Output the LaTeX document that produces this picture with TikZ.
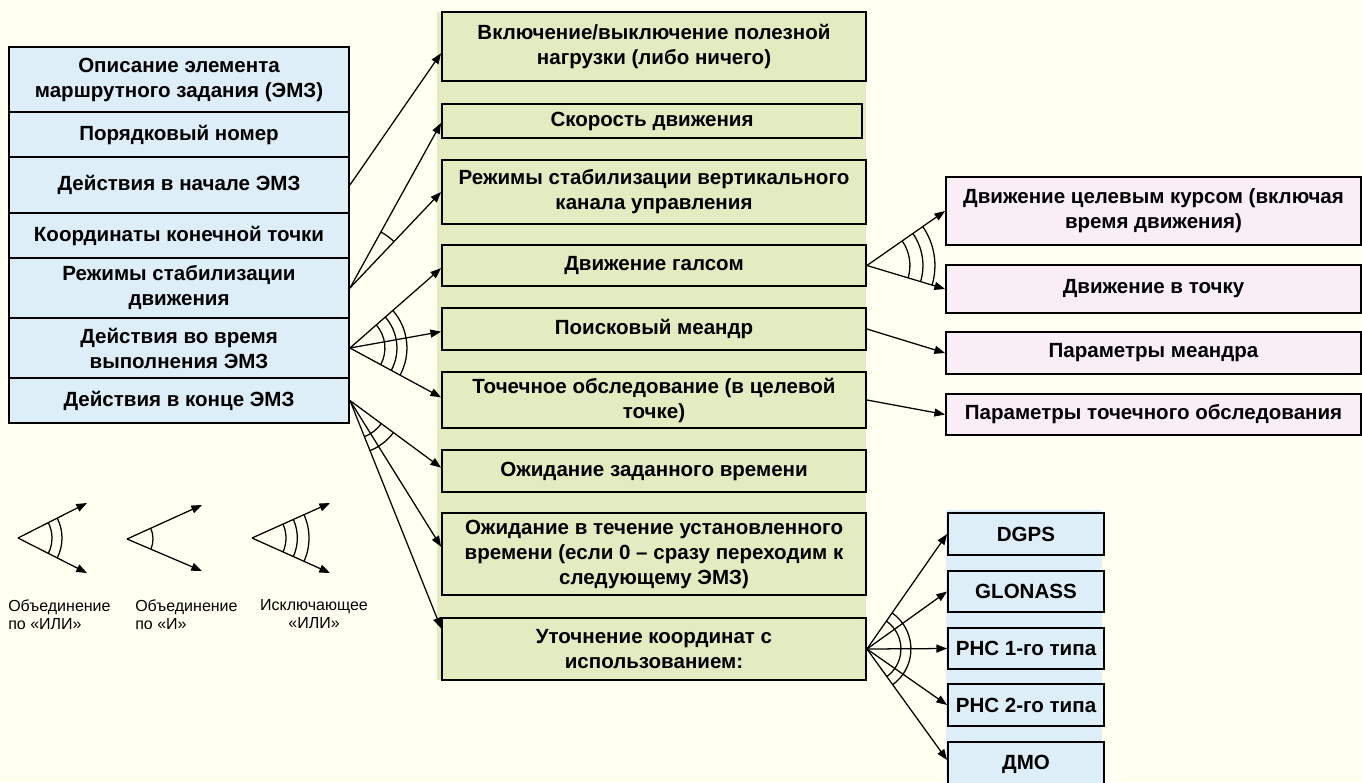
\documentclass[tikz,border=0pt]{standalone}
\usepackage{fontspec}
\setmainfont{Liberation Sans}
\usetikzlibrary{calc,arrows.meta}
\definecolor{bg}{RGB}{255,255,242}
\definecolor{lblue}{RGB}{221,238,248}
\definecolor{lgreen}{RGB}{227,235,192}
\definecolor{lpink}{RGB}{250,238,246}
\tikzset{
  box/.style={draw=black, line width=1.4pt, inner sep=0pt, align=center,
    font=\fontsize{15.4}{18.75}\selectfont\bfseries},
  lbox/.style={box, fill=lblue, minimum width=255pt},
  gbox/.style={box, fill=lgreen, minimum width=318pt},
  pbox/.style={box, fill=lpink, minimum width=311.25pt},
  rbox/.style={box, fill=lblue, minimum width=117pt},
  arr/.style={-{Triangle[length=8pt,width=6pt]}, line width=0.95pt},
  arcline/.style={line width=0.95pt},
  legtext/.style={font=\fontsize{12}{13.5}\selectfont, inner sep=0pt},
}
\newcommand\angarc[4]{%
  \draw[arcline] let \p1=($(#2)-(#1)$), \p2=($(#3)-(#1)$),
    \n1={atan2(\y1,\x1)}, \n2={atan2(\y2,\x2)} in
    ($(#1)+(\n1:#4)$) arc[start angle=\n1, end angle=\n2, radius=#4];}
\begin{document}
\begin{tikzpicture}[x=0.75pt,y=-0.75pt]
\fill[bg] (0,0) rectangle (1362,782);
\useasboundingbox (0,0) rectangle (1362,782);
% bands
\fill[lgreen] (437,12) rectangle (866,680);
\fill[lblue] (946,510) rectangle (1102,782);
% left column
\node[lbox, minimum height=48.75pt] (L1) at (179,79.5) {Описание элемента\\маршрутного задания (ЭМЗ)};
\node[lbox, minimum height=33.75pt] (L2) at (179,134.5) {Порядковый номер};
\node[lbox, minimum height=42pt] (L3) at (179,185) {Действия в начале ЭМЗ};
\node[lbox, minimum height=33.75pt] (L4) at (179,235.5) {Координаты конечной точки};
\node[lbox, minimum height=45pt] (L5) at (179,288) {Режимы стабилизации\\движения};
\node[lbox, minimum height=45pt] (L6) at (179,348) {Действия во время\\выполнения ЭМЗ};
\node[lbox, minimum height=33.75pt] (L7) at (179,400.5) {Действия в конце ЭМЗ};
% middle column
\node[gbox, minimum height=51.75pt] (M1) at (654,46.5) {Включение/выключение полезной\\нагрузки (либо ничего)};
\node[gbox, minimum height=25.5pt, minimum width=315pt] (M2) at (652,121) {Скорость движения};
\node[gbox, minimum height=48pt] (M3) at (654,192) {Режимы стабилизации вертикального\\канала управления};
\node[gbox, minimum height=30.75pt] (M4) at (654,265.5) {Движение галсом};
\node[gbox, minimum height=31.5pt] (M5) at (654,329) {Поисковый меандр};
\node[gbox, minimum height=42pt] (M6) at (654,400) {Точечное обследование (в целевой\\точке)};
\node[gbox, minimum height=31.5pt] (M7) at (654,471) {Ожидание заданного времени};
\node[gbox, minimum height=61.5pt] (M8) at (654,554) {Ожидание в течение установленного\\времени (если 0 – сразу переходим к\\следующему ЭМЗ)};
\node[gbox, minimum height=46.5pt] (M9) at (654,649) {Уточнение координат с\\использованием:};
% pink column
\node[pbox, minimum height=51pt] (P1) at (1153.5,211) {Движение целевым курсом (включая\\время движения)};
\node[pbox, minimum height=36pt] (P2) at (1153.5,289) {Движение в точку};
\node[pbox, minimum height=31.5pt] (P3) at (1153.5,353) {Параметры меандра};
\node[pbox, minimum height=30.75pt] (P4) at (1153.5,414.5) {Параметры точечного обследования};
% right blue column
\node[rbox, minimum height=31.5pt] (R1) at (1026,534) {DGPS};
\node[rbox, minimum height=30.75pt] (R2) at (1026,591.5) {GLONASS};
\node[rbox, minimum height=30.75pt] (R3) at (1026,648.5) {РНС 1-го типа};
\node[rbox, minimum height=31.5pt] (R4) at (1026,705) {РНС 2-го типа};
\node[rbox, minimum height=33pt] (R5) at (1026,764) {ДМО};
% arrow end points
\coordinate (t1) at ([yshift=-5pt]M1.west);
\coordinate (t2) at ([yshift=-1.5pt]M2.west);
\coordinate (t3) at (M3.west);
\coordinate (t4) at ([yshift=-2pt]M4.west);
\coordinate (t5) at ([yshift=-2pt]M5.west);
\coordinate (t6) at ([yshift=2pt]M6.west);
\coordinate (t7) at ([yshift=2.5pt]M7.west);
\coordinate (t8) at ([yshift=5.5pt]M8.west);
\coordinate (t9) at ([yshift=15.5pt]M9.west);
% left -> middle
\draw[arr] (L3.east) -- (t1);
\draw[arr] (L5.east) -- (t2);
\draw[arr] (L5.east) -- (t3);
\angarc{L5.east}{t2}{t3}{48pt}
\draw[arr] (L6.east) -- (t4);
\draw[arr] (L6.east) -- (t5);
\draw[arr] (L6.east) -- (t6);
\angarc{L6.east}{t4}{t6}{26.25pt}
\angarc{L6.east}{t4}{t6}{35.25pt}
\angarc{L6.east}{t4}{t6}{42.75pt}
\draw[arr] (L7.east) -- (t7);
\draw[arr] (L7.east) -- (t8);
\draw[arr] (L7.east) -- (t9);
\angarc{L7.east}{t7}{t9}{29.25pt}
\angarc{L7.east}{t7}{t9}{40.5pt}
% middle -> right
\draw[arr] (M4.east) -- (P1.west);
\draw[arr] (M4.east) -- (P2.west);
\angarc{M4.east}{P1.west}{P2.west}{32.25pt}
\angarc{M4.east}{P1.west}{P2.west}{42pt}
\angarc{M4.east}{P1.west}{P2.west}{51pt}
\draw[arr] (M5.east) -- (P3.west);
\draw[arr] (M6.east) -- (P4.west);
\coordinate (s5) at ([yshift=3pt]R5.west);
\draw[arr] (M9.east) -- (R1.west);
\draw[arr] (M9.east) -- (R2.west);
\draw[arr] (M9.east) -- (R3.west);
\draw[arr] (M9.east) -- (R4.west);
\draw[arr] (M9.east) -- (s5);
\angarc{M9.east}{R1.west}{s5}{25.5pt}
\angarc{M9.east}{R1.west}{s5}{33pt}
% legend
\coordinate (g1) at (18,538);
\coordinate (g1u) at (87,503);
\coordinate (g1d) at (87,573);
\draw[arr] (g1) -- (g1u);
\draw[arr] (g1) -- (g1d);
\angarc{g1}{g1u}{g1d}{25.5pt}
\angarc{g1}{g1u}{g1d}{33pt}
\coordinate (g2) at (127,539);
\coordinate (g2u) at (202,505);
\coordinate (g2d) at (202,571);
\draw[arr] (g2) -- (g2u);
\draw[arr] (g2) -- (g2d);
\angarc{g2}{g2u}{g2d}{19.5pt}
\coordinate (g3) at (252,538);
\coordinate (g3u) at (330,503);
\coordinate (g3d) at (330,573);
\draw[arr] (g3) -- (g3u);
\draw[arr] (g3) -- (g3d);
\angarc{g3}{g3u}{g3d}{25.5pt}
\angarc{g3}{g3u}{g3d}{34pt}
\angarc{g3}{g3u}{g3d}{42.75pt}
\node[legtext, align=left, anchor=north west] (lg1) at (8,599) {Объединение\\по «ИЛИ»};
\node[legtext, align=left, anchor=north west] (lg2) at (135,599) {Объединение\\по «И»};
\node[legtext, align=center, anchor=north] (lg3) at (314,599) {Исключающее\\«ИЛИ»};
\end{tikzpicture}
\end{document}
